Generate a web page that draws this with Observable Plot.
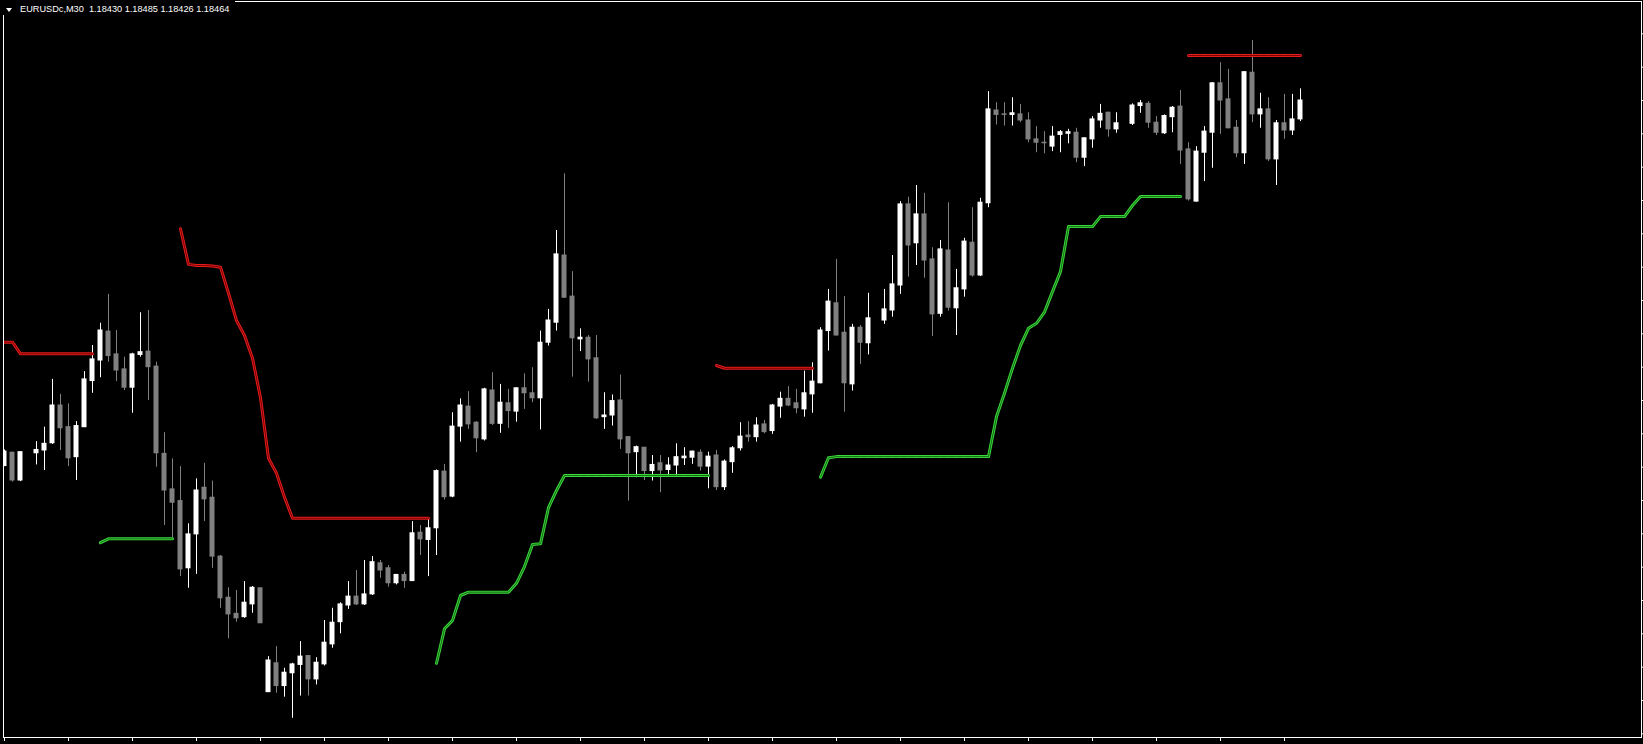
<!DOCTYPE html>
<html><head><meta charset="utf-8">
<script src="https://cdn.jsdelivr.net/npm/d3@7"></script>
<script src="https://cdn.jsdelivr.net/npm/@observablehq/plot@0.6"></script>
<style>
html,body{margin:0;padding:0;background:#000;overflow:hidden}
#wrap{position:relative;width:1643px;height:744px}
#title{position:absolute;left:0;top:0;height:15px;background:#000;color:#fff;font-family:"Liberation Sans",Arial,sans-serif;font-size:9.2px;line-height:11px;padding:4px 6px 0 20px;white-space:pre;box-sizing:border-box}
#tri{position:absolute;left:6px;top:8px;width:0;height:0;border-left:3px solid transparent;border-right:3px solid transparent;border-top:4px solid #fff}
</style></head>
<body><div id="wrap"><div id="chart"></div><div id="title"><span id="tri"></span>EURUSDc,M30  1.18430 1.18485 1.18426 1.18464</div></div>
<script>
// bar index = position in each array (null = no bar drawn)
const open = [
1.17806,1.17830,1.17780,null,1.17829,1.17834,1.17847,1.17915,1.17876,1.17822,
1.17876,1.17959,1.17996,1.18048,1.18007,1.17980,1.17947,1.18006,1.18012,1.17985,
1.17828,1.17764,1.17743,1.17622,1.17683,1.17767,1.17749,1.17643,1.17569,1.17540,
1.17534,1.17557,1.17586,1.17399,1.17451,1.17410,1.17433,1.17448,1.17464,1.17422,
1.17449,1.17485,1.17525,1.17555,1.17571,1.17557,1.17575,1.17631,1.17622,1.17595,
1.17610,1.17599,1.17686,1.17673,1.17694,1.17796,1.17751,1.17877,1.17913,1.17884,
1.17854,1.17942,1.17882,1.17919,1.17904,1.17946,1.17937,1.17928,1.18028,1.18064,
1.18185,1.18111,1.18034,1.18037,1.18000,1.17894,1.17897,1.17924,1.17858,1.17831,
1.17839,1.17797,1.17811,1.17799,1.17807,1.17820,1.17821,1.17830,1.17805,1.17825,
1.17768,1.17813,1.17838,1.17861,1.17858,1.17881,1.17869,1.17913,1.17927,1.17919,
1.17908,1.17935,1.17955,1.18049,1.18099,1.18046,1.17953,1.18055,1.18027,null,
1.18068,1.18086,1.18131,1.18277,1.18207,1.18259,1.18178,1.18080,1.18194,1.18090,
1.18124,1.18208,1.18149,1.18279,1.18446,1.18439,1.18438,1.18439,1.18428,1.18394,
1.18388,1.18381,1.18402,1.18404,1.18406,1.18361,1.18394,1.18428,1.18442,1.18412,
null,1.18422,1.18454,1.18458,1.18424,1.18405,1.18434,1.18453,1.18376,1.18282,
1.18370,1.18406,1.18495,1.18466,1.18415,1.18369,1.18514,1.18439,1.18448,1.18358,
1.18423,1.18410,1.18430];
const high = [
1.17835,1.17831,1.17832,null,1.17850,1.17876,1.17962,1.17935,1.17918,1.17886,
1.17976,1.18023,1.18063,1.18115,1.18050,1.18002,1.18009,1.18082,1.18086,1.17993,
1.17866,1.17819,1.17805,1.17702,1.17783,1.17811,1.17779,1.17645,1.17587,1.17582,
1.17598,1.17589,1.17586,1.17463,1.17481,1.17442,1.17451,1.17490,1.17464,1.17461,
1.17528,1.17550,1.17560,1.17598,1.17618,1.17636,1.17643,1.17636,1.17627,1.17611,
1.17615,1.17706,1.17699,1.17712,1.17799,1.17809,1.17902,1.17927,1.17940,1.17886,
1.17946,1.17974,1.17953,1.17944,1.17947,1.17972,1.17983,1.18049,1.18088,1.18230,
1.18332,1.18156,1.18053,1.18041,1.18041,1.17938,1.17934,1.17970,1.17859,1.17842,
1.17839,1.17825,1.17825,1.17821,1.17846,1.17839,1.17833,1.17835,1.17831,1.17834,
1.17817,1.17841,1.17884,1.17886,1.17893,1.17888,1.17917,1.17939,1.17949,1.17944,
1.17977,1.17992,1.18055,1.18124,1.18178,1.18111,1.18061,1.18059,1.18117,null,
1.18124,1.18185,1.18282,1.18290,1.18311,1.18297,1.18199,1.18212,1.18280,1.18160,
1.18216,1.18271,1.18288,1.18480,1.18460,1.18460,1.18469,1.18457,1.18442,1.18417,
1.18408,1.18417,1.18410,1.18412,1.18414,1.18397,1.18435,1.18457,1.18443,1.18442,
null,1.18458,1.18464,1.18462,1.18435,1.18438,1.18453,1.18482,1.18388,1.18381,
1.18417,1.18496,1.18532,1.18520,1.18428,1.18516,1.18572,1.18477,1.18469,1.18428,
1.18475,1.18475,1.18485];
const low = [
1.17805,1.17777,1.17778,null,1.17808,1.17798,1.17845,1.17834,1.17805,1.17780,
1.17875,1.17937,1.17965,1.17993,1.17958,1.17942,1.17901,1.18002,1.17924,1.17804,
1.17699,1.17675,1.17607,1.17586,1.17611,1.17706,1.17622,1.17550,1.17495,1.17525,
1.17532,1.17541,1.17523,1.17399,1.17397,1.17390,1.17352,1.17392,1.17392,1.17412,
1.17446,1.17478,1.17504,1.17548,1.17555,1.17555,1.17573,1.17604,1.17588,1.17592,
1.17586,1.17598,1.17645,1.17607,1.17645,1.17745,1.17749,1.17849,1.17872,1.17830,
1.17851,1.17879,1.17865,1.17874,1.17885,1.17908,1.17920,1.17871,1.18022,1.18049,
1.18108,1.17966,1.18012,1.17957,1.17890,1.17872,1.17878,1.17836,1.17743,1.17785,
1.17780,1.17779,1.17758,1.17786,1.17787,1.17807,1.17809,1.17797,1.17765,1.17762,
1.17762,1.17793,1.17833,1.17849,1.17849,1.17864,1.17863,1.17892,1.17913,1.17900,
1.17894,1.17901,1.17954,1.18013,1.18040,1.17903,1.17941,1.17989,1.18006,null,
1.18061,1.18074,1.18115,1.18146,1.18167,1.18144,1.18039,1.18074,1.18085,1.18041,
1.18110,1.18146,1.18147,1.18271,1.18420,1.18418,1.18418,1.18424,1.18388,1.18370,
1.18368,1.18372,1.18370,1.18386,1.18352,1.18345,1.18378,1.18414,1.18398,1.18405,
null,1.18419,1.18441,1.18414,1.18401,1.18403,1.18406,1.18349,1.18283,1.18281,
1.18318,1.18342,1.18403,1.18413,1.18361,1.18349,1.18424,1.18414,1.18354,1.18311,
1.18394,1.18401,1.18426];
const close = [
1.17832,1.17780,1.17831,null,1.17835,1.17846,1.17915,1.17874,1.17820,1.17878,
1.17962,1.17998,1.18050,1.18004,1.17978,1.17947,1.18007,1.18011,1.17984,1.17829,
1.17762,1.17740,1.17620,1.17683,1.17762,1.17746,1.17643,1.17568,1.17539,1.17532,
1.17560,1.17587,1.17523,1.17456,1.17410,1.17434,1.17449,1.17463,1.17422,1.17452,
1.17488,1.17524,1.17557,1.17571,1.17557,1.17575,1.17633,1.17618,1.17595,1.17610,
1.17599,1.17685,1.17674,1.17694,1.17797,1.17750,1.17877,1.17915,1.17881,1.17856,
1.17944,1.17882,1.17920,1.17905,1.17946,1.17937,1.17928,1.18028,1.18068,1.18187,
1.18109,1.18036,1.18037,1.17998,1.17892,1.17897,1.17923,1.17854,1.17829,1.17840,
1.17797,1.17808,1.17798,1.17807,1.17822,1.17823,1.17832,1.17805,1.17823,1.17768,
1.17814,1.17838,1.17859,1.17858,1.17879,1.17867,1.17915,1.17927,1.17915,1.17910,
1.17937,1.17958,1.18050,1.18102,1.18041,1.17955,1.18055,1.18028,1.18072,null,
1.18088,1.18133,1.18277,1.18203,1.18259,1.18176,1.18079,1.18196,1.18091,1.18126,
1.18210,1.18149,1.18280,1.18448,1.18438,1.18438,1.18441,1.18428,1.18394,1.18388,
1.18387,1.18399,1.18407,1.18407,1.18361,1.18396,1.18430,1.18440,1.18412,1.18423,
null,1.18455,1.18459,1.18424,1.18406,1.18436,1.18451,1.18374,1.18286,1.18372,
1.18408,1.18495,1.18464,1.18414,1.18369,1.18515,1.18439,1.18448,1.18358,1.18423,
1.18410,1.18430,1.18464];
// trailing stop line (red = above price, green = below price)
const redLine = [
1.18029,1.18029,1.18008,1.18008,1.18008,1.18008,1.18008,1.18008,1.18008,1.18008,
1.18008,1.18008,null,null,null,null,null,null,null,null,
null,null,1.18233,1.18169,1.18167,1.18167,1.18166,1.18164,1.18117,1.18068,
1.18041,1.18000,1.17929,1.17820,1.17793,1.17750,1.17712,1.17712,1.17712,1.17712,
1.17712,1.17712,1.17712,1.17712,1.17712,1.17712,1.17712,1.17712,1.17712,1.17712,
1.17712,1.17712,1.17712,1.17712,null,null,null,null,null,null,
null,null,null,null,null,null,null,null,null,null,
null,null,null,null,null,null,null,null,null,null,
null,null,null,null,null,null,null,null,null,1.17987,
1.17982,1.17982,1.17982,1.17982,1.17982,1.17982,1.17982,1.17982,1.17982,1.17982,
1.17982,1.17982,null,null,null,null,null,null,null,null,
null,null,null,null,null,null,null,null,null,null,
null,null,null,null,null,null,null,null,null,null,
null,null,null,null,null,null,null,null,null,null,
null,null,null,null,null,null,null,null,1.18545,1.18545,
1.18545,1.18545,1.18545,1.18545,1.18545,1.18545,1.18545,1.18545,1.18545,1.18545,
1.18545,1.18545,1.18545];
const greenLine = [
null,null,null,null,null,null,null,null,null,null,
null,null,1.17668,1.17675,1.17675,1.17675,1.17675,1.17675,1.17675,1.17675,
1.17675,1.17675,null,null,null,null,null,null,null,null,
null,null,null,null,null,null,null,null,null,null,
null,null,null,null,null,null,null,null,null,null,
null,null,null,null,1.17451,1.17513,1.17528,1.17573,1.17579,1.17579,
1.17579,1.17579,1.17579,1.17579,1.17595,1.17625,1.17665,1.17666,1.17731,1.17762,
1.17789,1.17789,1.17789,1.17789,1.17789,1.17789,1.17789,1.17789,1.17789,1.17789,
1.17789,1.17789,1.17789,1.17789,1.17789,1.17789,1.17789,1.17789,1.17789,null,
null,null,null,null,null,null,null,null,null,null,
null,null,1.17786,1.17821,1.17823,1.17823,1.17823,1.17823,1.17823,1.17823,
1.17823,1.17823,1.17823,1.17823,1.17823,1.17823,1.17823,1.17823,1.17823,1.17823,
1.17823,1.17823,1.17823,1.17823,1.17895,1.17937,1.17982,1.18023,1.18054,1.18063,
1.18083,1.18120,1.18156,1.18237,1.18237,1.18237,1.18237,1.18255,1.18255,1.18255,
1.18255,1.18275,1.18291,1.18291,1.18291,1.18291,1.18291,1.18291,null,null,
null,null,null,null,null,null,null,null,null,null,
null,null,null];
// axis ticks (no labels shown in the reference)
const timeTicks = [0,8,16,24,32,40,48,56,64,72,80,88,96,104,112,120,128,136,144,152,160];
const priceTicks = [1.18584,1.18524,1.18464,1.18404,1.18344,1.18284,1.18224,1.18164,1.18104,1.18044,1.17984,
  1.17924,1.17864,1.17804,1.17744,1.17684,1.17624,1.17564,1.17504,1.17444,1.17384,1.17324];

const bars = open.map((o, i) => ({i, o, h: high[i], l: low[i], c: close[i]}))
  .filter(d => d.o != null)
  .map(d => ({...d, up: d.c >= d.o, lo: Math.min(d.o, d.c), hi: Math.max(d.o, d.c)}));
const red = redLine.map((v, i) => ({i, v}));
const green = greenLine.map((v, i) => ({i, v}));

const BULL = "#ffffff", BEAR = "#808080";
const chart = Plot.plot({
  width: 1643, height: 744,
  marginTop: 1, marginBottom: 7, marginLeft: 3, marginRight: 2,
  style: {background: "#000", color: "#fff", overflow: "visible"},
  x: {type: "linear", domain: [-0.125, 204.625], axis: null},
  y: {type: "linear", domain: [1.173174, 1.186422], axis: null},
  marks: [
    Plot.ruleX(bars, {x: "i", y1: "l", y2: "h", stroke: d => d.up ? BULL : BEAR, strokeWidth: 1, clip: true}),
    Plot.rect(bars, {x1: d => d.i - 0.5, x2: d => d.i + 0.5, y1: "lo", y2: "hi",
      insetLeft: 1.5, insetRight: 1.5, insetTop: -0.5, insetBottom: -0.5,
      fill: d => d.up ? BULL : BEAR, clip: true}),
    Plot.line(red, {x: "i", y: "v", stroke: "#e41c1c", strokeWidth: 3, clip: true}),
    Plot.line(red, {x: "i", y: "v", stroke: "#7a0000", strokeWidth: 1, clip: true}),
    Plot.line(green, {x: "i", y: "v", stroke: "#3ad83a", strokeWidth: 3, clip: true}),
    Plot.line(green, {x: "i", y: "v", stroke: "#146a14", strokeWidth: 1, clip: true}),
    Plot.frame({stroke: "#fff"}),
    Plot.axisX({ticks: timeTicks, tickSize: 4, tickFormat: () => "", label: null, anchor: "bottom", stroke: "#fff"}),
    Plot.axisY({ticks: priceTicks, tickSize: 2, tickFormat: () => "", label: null, anchor: "right", stroke: "#fff"})
  ]
});
document.getElementById("chart").appendChild(chart);
</script>
</body></html>
